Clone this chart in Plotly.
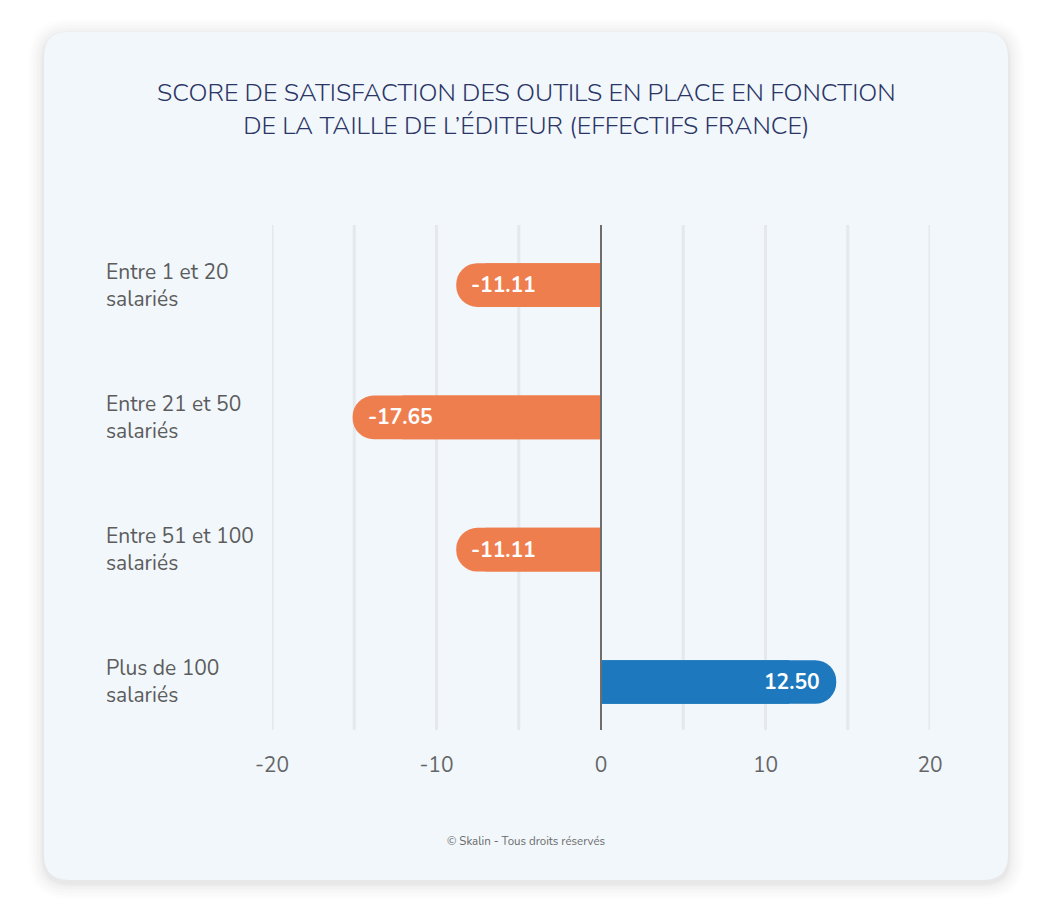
import plotly.graph_objects as go

categories = ["Entre 1 et 20<br>salariés", "Entre 21 et 50<br>salariés",
              "Entre 51 et 100<br>salariés", "Plus de 100<br>salariés"]
scores = [-11.11, -17.65, -11.11, 12.50]          # printed values
bar_lengths = [-8.8, -15.1, -8.8, 14.3]           # bar lengths as drawn in the picture
x_tickvals = [-20, -15, -10, -5, 0, 5, 10, 15, 20]
x_ticktext = ["-20", "", "-10", "", "0", "", "10", "", "20"]

ORANGE = "#ef7e4f"
BLUE = "#1d78bd"
FONT = "Nunito, Lato, sans-serif"
colors = [BLUE if v > 0 else ORANGE for v in scores]
ypos = list(range(len(categories)))

OFF = 8  # page body margin
W, H = 1031, 896
L, R, T, B = 272 - OFF, 930 - OFF, 225 - OFF, 730 - OFF
pw, ph = R - L, B - T

def px(x):
    return (x - OFF - L) / pw

def py(y):
    return (B - (y - OFF)) / ph

def rounded_rect(x0, y0, x1, y1, r):
    rx, ry = r / pw, r / ph
    X0, X1 = px(x0), px(x1)
    Y0, Y1 = py(y0), py(y1)
    return (f"M {X0+rx},{Y0} L {X1-rx},{Y0} Q {X1},{Y0} {X1},{Y0-ry} "
            f"L {X1},{Y1+ry} Q {X1},{Y1} {X1-rx},{Y1} L {X0+rx},{Y1} "
            f"Q {X0},{Y1} {X0},{Y1+ry} L {X0},{Y0-ry} Q {X0},{Y0} {X0+rx},{Y0} Z")

shapes = []
# soft shadow
for g, op in [(16, 0.008), (13, 0.010), (10, 0.013), (7, 0.016), (4, 0.02), (2, 0.025)]:
    shapes.append(dict(type="path", xref="paper", yref="paper", layer="below",
                       path=rounded_rect(44 - g, 32 - g + 3, 1008 + g, 880 + g + 3, 25 + g),
                       fillcolor=f"rgba(0,0,0,{op})", line=dict(width=0)))
shapes.append(dict(type="path", xref="paper", yref="paper", layer="below",
                   path=rounded_rect(44, 32, 1008, 880, 25),
                   fillcolor="#f1f7fb", line=dict(width=0)))
# grid lines
for v in x_tickvals:
    if v == 0:
        continue
    shapes.append(dict(type="line", xref="x", yref="paper", x0=v, x1=v, y0=0, y1=1,
                       line=dict(color="#e5e8ec", width=3), layer="below"))
# zero line
shapes.append(dict(type="line", xref="x", yref="paper", x0=0, x1=0, y0=0, y1=1,
                   line=dict(color="#6e6e6e", width=2), layer="above"))

fig = go.Figure()
fig.add_trace(go.Bar(
    y=ypos, x=bar_lengths, orientation="h",
    marker=dict(color=colors, cornerradius=22, line=dict(width=0)),
    width=0.33, hoverinfo="skip", showlegend=False))
fig.add_trace(go.Bar(
    y=ypos, x=[v * 0.8 for v in bar_lengths], orientation="h",
    marker=dict(color=colors, line=dict(width=0)), width=0.33,
    hoverinfo="skip", showlegend=False))

annotations = []
for i, (v, s) in enumerate(zip(bar_lengths, scores)):
    annotations.append(dict(xref="x", yref="y", x=v, y=i, text=f"<b>{s:.2f}</b>",
                            xanchor="left" if v < 0 else "right",
                            xshift=13 if v < 0 else -14, yanchor="middle", showarrow=False,
                            font=dict(family=FONT, size=21, color="white")))
for i, c in enumerate(categories):
    annotations.append(dict(xref="paper", yref="y", x=px(104), y=i, text=c,
                            xanchor="left", yanchor="middle", align="left", showarrow=False,
                            font=dict(family=FONT, size=21, color="#5c5c5c")))
annotations.append(dict(xref="paper", yref="paper", x=px(526), y=py(74),
                        text="SCORE DE SATISFACTION DES OUTILS EN PLACE EN FONCTION<br>DE LA TAILLE DE L’ÉDITEUR (EFFECTIFS FRANCE)",
                        showarrow=False, xanchor="center", yanchor="top", align="center",
                        font=dict(family=FONT, size=25, color="#2b3566", weight=300)))
annotations.append(dict(xref="paper", yref="paper", x=px(526), y=py(841),
                        text="© Skalin - Tous droits réservés", showarrow=False,
                        xanchor="center", yanchor="middle",
                        font=dict(family=FONT, size=11.5, color="#6a6a6a")))

fig.update_layout(
    width=W, height=H, margin=dict(l=L, r=W - R, t=T, b=H - B),
    paper_bgcolor="white", plot_bgcolor="rgba(0,0,0,0)",
    barmode="overlay", shapes=shapes, annotations=annotations,
    xaxis=dict(range=[-20, 20], tickvals=x_tickvals, ticktext=x_ticktext,
               showgrid=False, zeroline=False, showline=False, ticks="",
               ticklabelstandoff=20, fixedrange=True,
               tickfont=dict(family=FONT, size=21, color="#666666")),
    yaxis=dict(range=[3.363, -0.454], showticklabels=False, showgrid=False,
               zeroline=False, showline=False, fixedrange=True),
)

fig.write_html("out.html")
